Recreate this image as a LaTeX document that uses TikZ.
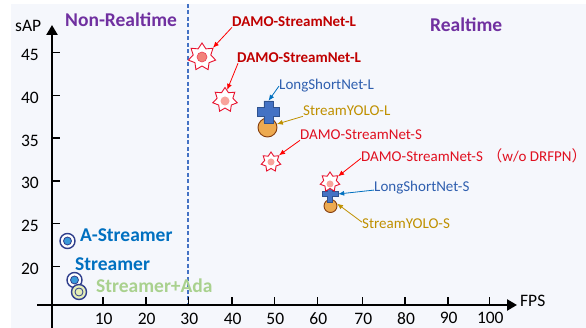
\documentclass[tikz,border=0pt]{standalone}
\usepackage{fontspec}
\setmainfont{Carlito}
\newfontfamily\cjk{Noto Sans CJK SC}
\usetikzlibrary{shapes.geometric,arrows.meta}

\definecolor{bgc}{HTML}{F5F7FC}
\definecolor{dashblue}{HTML}{4472C4}
\definecolor{purp}{HTML}{7030A0}
\definecolor{damored}{HTML}{C00000}
\definecolor{sred}{HTML}{E01020}
\definecolor{starred}{HTML}{E8112D}
\definecolor{pinkdot}{HTML}{F8A49C}
\definecolor{salmon}{HTML}{F2837A}
\definecolor{lsblue}{HTML}{2F5FAF}
\definecolor{arrblue}{HTML}{0070C0}
\definecolor{crossfill}{HTML}{4472C4}
\definecolor{crossdraw}{HTML}{2F528F}
\definecolor{gold}{HTML}{BF9000}
\definecolor{orangefill}{HTML}{EDAA50}
\definecolor{orangedraw}{HTML}{843C0C}
\definecolor{strblue}{HTML}{0070C0}
\definecolor{navy}{HTML}{2F3E8C}
\definecolor{skyfill}{HTML}{3A9AD9}
\definecolor{adagreen}{HTML}{A9D18E}
\definecolor{adafill}{HTML}{E4EEB8}

\tikzset{
  lab/.style={anchor=base west, inner sep=0pt, font=\fontsize{15}{18}\selectfont},
  blab/.style={anchor=base west, inner sep=0pt, font=\fontsize{15}{18}\selectfont\bfseries, damored},
  biglab/.style={anchor=base west, inner sep=0pt, font=\fontsize{19.5}{22}\selectfont\bfseries},
  ticklab/.style={inner sep=0pt, font=\fontsize{17.5}{20}\selectfont},
  starm/.style={star, star points=7, star point ratio=1.55, draw=starred, fill=white, line width=0.9pt, inner sep=0pt, minimum size=#1},
  dotm/.style={circle, fill=pinkdot, inner sep=0pt, minimum size=#1},
  yolom/.style={circle, draw=orangedraw, fill=orangefill, line width=0.9pt, inner sep=0pt, minimum size=#1},
  ringm/.style={circle, draw=navy, fill=#1, line width=1.4pt, inner sep=0pt, minimum size=15pt},
  corem/.style={circle, draw=navy, fill=#1, line width=0.8pt, inner sep=0pt, minimum size=8pt},
  ptr/.style={-{Latex[length=6pt,width=5pt]}, line width=0.8pt},
  axisln/.style={line width=2.6pt, -{Triangle[length=10pt,width=11pt]}},
  pics/plusm/.style args={#1/#2}{code={
    \draw[fill=crossfill, draw=crossdraw, line width=0.8pt] (-#2,-#1) -- (#2,-#1) -- (#2,-#2) -- (#1,-#2) -- (#1,#2) -- (#2,#2) -- (#2,#1) -- (-#2,#1) -- (-#2,#2) -- (-#1,#2) -- (-#1,-#2) -- (-#2,-#2) -- cycle;
    \node[inner sep=0pt, minimum size={2*#1*1pt}] (-c) {};
  }}
}

\begin{document}
\begin{tikzpicture}[x=1pt, y=-1pt]
\useasboundingbox (0,0) rectangle (586,328);
\fill[bgc] (11,4) rectangle (586,328);      %背景
\draw[dashblue, line width=1.2pt, dash pattern=on 4pt off 2.5pt] (188,4) -- (188,305);   %30 FPS 分界线
\draw[axisln] (52,328) -- (52,25);          %纵轴
\draw[axisln] (37,305) -- (517,305);        %横轴
\node[anchor=base west, inner sep=0pt, font=\fontsize{17.5}{20}\selectfont] (sap) at (15,32) {sAP};
\node[anchor=base west, inner sep=0pt, font=\fontsize{17.5}{20}\selectfont] (fps) at (520,307) {FPS};
\foreach \v/\y in {45/52.7,40/95.7,35/138.3,30/180.9,25/223.5,20/266.7}{
  \draw[line width=1.6pt] (52,\y) -- (60,\y);
  \node[ticklab, anchor=base east] (yt\v) at (39,\y+8) {\v};
}
\foreach \v/\x/\b in {10/102.7/325,20/145.7/325,30/188.3/325,40/231.7/325,50/274.3/325,60/317.3/324.5,70/362.3/324.5,80/405/324.5,90/447.7/324,100/489.3/324}{
  \draw[line width=1.6pt] (\x,305) -- (\x,297);
  \node[ticklab, anchor=base] (xt\v) at (\x+1,\b) {\v};
}
\node[biglab, purp] (nonrt) at (65,27) {Non-Realtime};
\node[biglab, purp] (rt) at (430,31.5) {Realtime};
%标记点
\node[yolom=19pt] (syl) at (267.5,127.5) {};
\node[yolom=13pt] (sys) at (330.5,206) {};
\pic (lsl) at (268.5,112) {plusm=11/4.6};
\pic (lss) at (330,194) {plusm=8/2.6};
\node[starm=28pt] (s1) at (202,57) {};
\node[dotm=10pt, fill=salmon, draw=starred!80, line width=0.6pt] (d1) at (202,57) {};
\node[starm=25pt] (s2) at (225,100) {};
\node[dotm=9pt] (d2) at (225,101) {};
\node[starm=20pt] (s3) at (271,162) {};
\node[dotm=7pt] (d3) at (271,162) {};
\node[starm=20pt] (s4) at (330,182) {};
\node[dotm=7pt] (d4) at (330,184) {};
\node[ringm=white] (ast) at (67.5,241) {};
\node[corem=skyfill] (astc) at (67.5,241) {};
\node[ringm=white] (str) at (74.5,280) {};
\node[corem=skyfill] (strc) at (74.5,280) {};
\node[ringm=adafill] (ada) at (79,292) {};
\node[corem=adafill] (adac) at (79,292) {};
%文字标签
\node[blab] (dla) at (232,27) {DAMO-StreamNet-L};
\node[blab] (dlb) at (237,63) {DAMO-StreamNet-L};
\node[lab, lsblue] (lsla) at (279,90) {LongShortNet-L};
\node[lab, gold] (syla) at (303,116) {StreamYOLO-L};
\node[lab, sred] (dsa) at (300,140) {DAMO-StreamNet-S};
\node[lab, sred] (dsb) at (361,162) {DAMO-StreamNet-S\hspace{0.3em}{\cjk （}w/o DRFPN{\cjk ）}};
\node[lab, lsblue] (lssa) at (374,192) {LongShortNet-S};
\node[lab, gold] (sysa) at (362,229) {StreamYOLO-S};
\node[biglab, strblue] (asta) at (80,242) {A-Streamer};
\node[biglab, strblue] (stra) at (75,271) {Streamer};
\node[biglab, adagreen] (adaa) at (96,293) {Streamer+Ada};
%箭头
\draw[ptr, red] (dla.south west) -- (s1.40);
\draw[ptr, red] ([xshift=1pt]dlb.south west) -- (s2.78);
\draw[ptr, arrblue] (lsla.west) -- (lsl-c.north);
\draw[ptr, gold] (syla.south west) -- (syl.20);
\draw[ptr, red] (dsa.south west) -- (s3.40);
\draw[ptr, red] ([yshift=-2pt]dsb.west) -- (s4.35);
\draw[ptr, arrblue] ([yshift=-2pt]lssa.west) -- (lss-c.east);
\draw[ptr, gold] ([yshift=2pt]sysa.west) -- (sys.20);
\end{tikzpicture}
\end{document}
